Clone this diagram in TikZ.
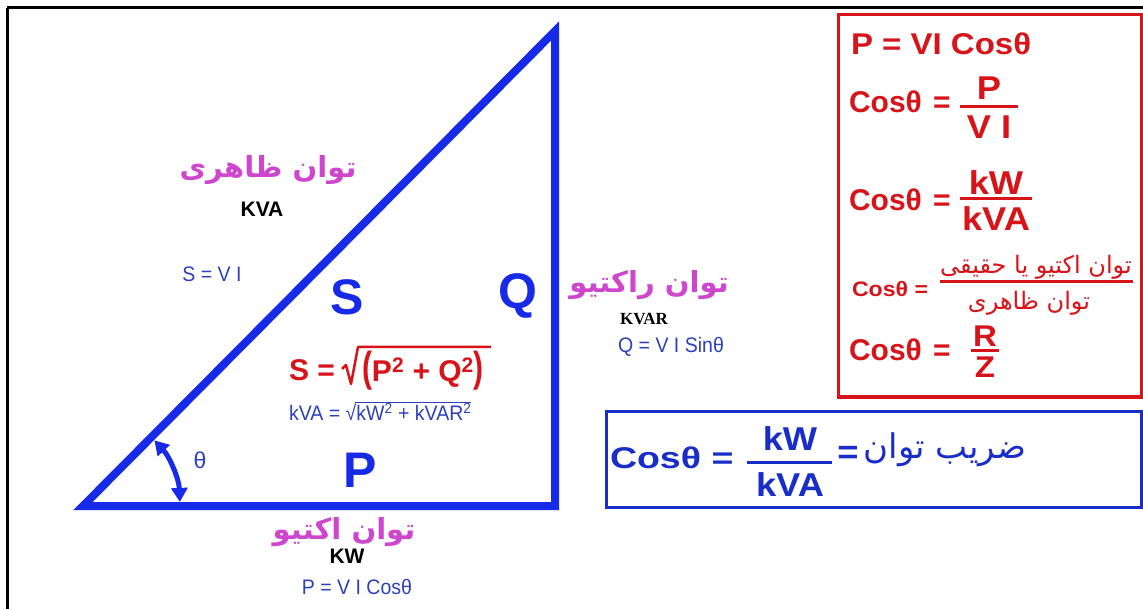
\documentclass[tikz,border=0pt]{standalone}
\usepackage{fontspec}
\usepackage{graphicx}
\usetikzlibrary{arrows.meta}
\TeXXeTstate=1
\setmainfont{Liberation Sans}
\newfontfamily\fa[Script=Arabic]{DejaVu Sans}
\newfontfamily\smallfam[FakeStretch=0.93]{Liberation Sans}
\newfontfamily\wideb[FakeStretch=1.1]{Liberation Sans Bold}
\newfontfamily\widec[FakeStretch=1.25]{Liberation Sans Bold}
\newfontfamily\serifb{Liberation Serif}
\definecolor{triblue}{RGB}{22,42,232}
\definecolor{lblue}{RGB}{45,65,190}
\definecolor{mag}{RGB}{205,70,205}
\definecolor{fred}{RGB}{215,20,25}
\definecolor{bblue}{RGB}{25,45,200}
\begin{document}
\begin{tikzpicture}[x=1pt,y=-1pt,
  every node/.style={inner sep=0pt,outer sep=0pt},
  persian/.style={font=\fa\bfseries\fontsize{29}{32}\selectfont,text=mag},
  unitlbl/.style={font=\bfseries\fontsize{21}{24}\selectfont,text=black},
  smallf/.style={font=\smallfam\fontsize{21}{24}\selectfont,text=lblue},
  bigl/.style={font=\bfseries\fontsize{50}{55}\selectfont,text=triblue},
  redf/.style={font=\bfseries\fontsize{30}{34}\selectfont,text=fred},
  redfr/.style={font=\wideb\fontsize{33}{36}\selectfont,text=fred},
  redp/.style={font=\fa\fontsize{24}{28}\selectfont,text=fred},
  bluef/.style={font=\widec\fontsize{30}{34}\selectfont,text=bblue},
  bluefr/.style={font=\wideb\fontsize{33}{36}\selectfont,text=bblue},
  bluep/.style={font=\fa\fontsize{34}{38}\selectfont,text=bblue},
  redbar/.style={draw=fred,line width=3pt},
  bluebar/.style={draw=bblue,line width=3pt},
  arcst/.style={draw=triblue,line width=5pt,{Triangle[length=14pt,width=16pt]}-{Triangle[length=14pt,width=16pt]}}
]
\useasboundingbox (0,0) rectangle (1143,609);
\fill[white] (0,0) rectangle (1143,609);
% frame lines
\draw[line width=3pt] (7,8) -- (1143,8);
\draw[line width=3pt] (7,8) -- (7,609);
% triangle
\coordinate (A) at (83,506);
\coordinate (B) at (555,506);
\coordinate (C) at (555,31);
\draw[triblue,line width=8pt,line join=miter] (A) -- (B) -- (C) -- cycle;
\draw[arcst] (A) ++(-42.6:97) arc[start angle=-42.6,end angle=-2.4,radius=97];
\node[font=\fontsize{23}{24}\selectfont,text=lblue] (th) at (200,460) {θ};
% labels along hypotenuse
\node[persian] (tz) at (268,170) {\beginR توان ظاهری\endR};
\node[unitlbl] (kva) at (262,209) {KVA};
\node[smallf] (svi) at (212,274) {S = V I};
\node[bigl] (S) at (347,297) {S};
\node[bigl] (Q) at (518,296) {Q};
\node[bigl] (P) at (360,470) {P};
% red formula
\node[redf,anchor=west] (sf) at (289,370) {S =};
\draw[fred,line width=2.5pt,line join=round] (342,369) -- (346,365) -- (351,384) -- (358,347) -- (491,347);
\node[redf,anchor=west] (sfr) at (362,371) {\scalebox{1}[1.4]{(}P\textsuperscript{2} + Q\textsuperscript{2}\scalebox{1}[1.4]{)}};
% kVA formula
\node[smallf,anchor=west] (kv1) at (289,412) {kVA = √};
\node[smallf,anchor=west] (kv2) at (kv1.east) {kW\textsuperscript{2} + kVAR\textsuperscript{2}};
\draw[lblue,line width=1pt] ([xshift=-1pt,yshift=1pt]kv2.north west) -- ([yshift=1pt]kv2.north east);
% bottom labels
\node[persian] (ta) at (344,532) {\beginR توان اکتیو\endR};
\node[unitlbl] (kw) at (347,556) {KW};
\node[smallf] (pvi) at (357,587) {P = V I Cosθ};
% right labels
\node[persian] (tr) at (649,285) {\beginR توان راکتیو\endR};
\node[font=\serifb\bfseries\fontsize{17}{20}\selectfont] (kvar) at (644,319) {KVAR};
\node[smallf] (qvi) at (671,347) {Q = V I Sinθ};
% red box
\draw[fred,line width=3pt] (838,15) rectangle (1141,397);
\node[font=\wideb\fontsize{30}{34}\selectfont,text=fred,anchor=west] (r1) at (851,44) {P = VI Cosθ};
\node[redf,anchor=west] (r2) at (849,102) {Cosθ\hspace{3pt} =};
\node[redfr] (r2n) at (989,88) {P};
\draw[redbar] (960,107) -- (1018,107);
\node[redfr] (r2d) at (989,127) {V I};
\node[redf,anchor=west] (r3) at (849,200) {Cosθ\hspace{3pt} =};
\node[redfr] (r3n) at (996,183) {kW};
\draw[redbar] (960,199) -- (1032,199);
\node[redfr] (r3d) at (996,219) {kVA};
\node[font=\wideb\fontsize{21}{24}\selectfont,text=fred,anchor=west] (r4) at (852,289) {Cosθ =};
\node[redp] (r4n) at (1036,267) {\beginR توان اکتیو یا حقیقی\endR};
\draw[redbar] (940,282) -- (1133,282);
\node[redp] (r4d) at (1029,303) {\beginR توان ظاهری\endR};
\node[redf,anchor=west] (r5) at (849,350) {Cosθ\hspace{3pt} =};
\node[font=\wideb\fontsize{30}{34}\selectfont,text=fred] (r5n) at (985,336) {R};
\draw[redbar] (971,351) -- (999,351);
\node[font=\wideb\fontsize{30}{34}\selectfont,text=fred] (r5d) at (985,367) {Z};
% blue box
\draw[bblue,line width=3pt] (606,411) rectangle (1141,507);
\node[bluef,anchor=west] (b1) at (610,458) {Cosθ =};
\node[bluefr] (bn) at (790,439) {kW};
\draw[bluebar] (747,462) -- (832,462);
\node[bluefr] (bd) at (790,485) {kVA};
\node[bluefr] (beq) at (848,455) {=};
\node[bluep] (bp) at (945,450) {\beginR ضریب توان\endR};
\end{tikzpicture}
\end{document}
